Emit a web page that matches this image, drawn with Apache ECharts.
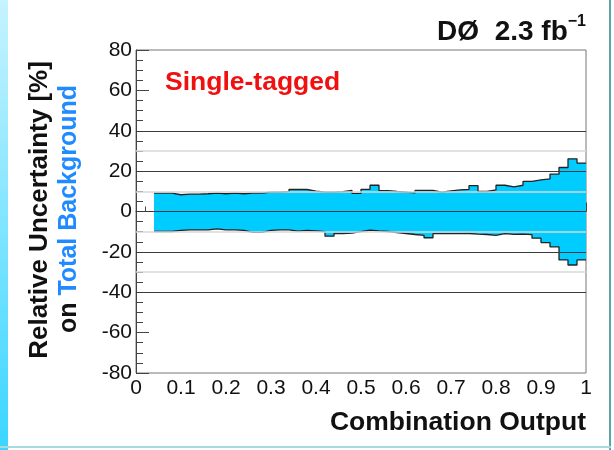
<!DOCTYPE html>
<html><head><meta charset="utf-8">
<script src="https://cdn.jsdelivr.net/npm/echarts@6/dist/echarts.min.js"></script>
<style>html,body{margin:0;padding:0;background:#fff}#c{width:614px;height:450px}</style>
</head><body><div id="c"></div><script>
const binEdges = [0.04,0.06,0.08,0.10,0.12,0.14,0.16,0.18,0.20,0.22,0.24,0.26,0.28,0.30,0.32,0.34,0.36,0.38,0.40,0.42,0.44,0.46,0.48,0.50,0.52,0.54,0.56,0.58,0.60,0.62,0.64,0.66,0.68,0.70,0.72,0.74,0.76,0.78,0.80,0.82,0.84,0.86,0.88,0.90,0.92,0.94,0.96,0.98,1.00];
const upperUnc = [9.1,9.1,8.3,8.6,8.6,8.8,9.1,8.8,9.1,8.8,9.1,9.1,
  9.6,9.6,9.8,10.9,10.9,10.1,9.6,9.6,9.8,10.4,9.0,11.0,
  13.0,10.3,9.9,9.6,9.2,10.4,10.4,9.6,10.2,10.7,11.0,12.8,
  9.9,10.7,13.0,12.2,13.0,14.9,15.7,16.2,18.5,21.8,26.1,24.0];
const lowerUnc = [-9.9,-9.9,-9.4,-9.1,-9.1,-9.1,-8.6,-9.1,-9.1,-9.4,-10.3,-10.3,
  -9.4,-9.1,-9.1,-9.7,-9.4,-9.6,-10.0,-12.2,-10.9,-10.7,-10.0,-9.2,
  -9.6,-9.9,-10.4,-10.9,-11.4,-11.8,-13.0,-11.0,-11.0,-11.0,-10.9,-11.2,
  -11.4,-11.8,-11.0,-11.3,-11.2,-11.5,-13.2,-15.4,-17.5,-24.0,-26.5,-24.0];
const darkLines = [-40,-20,0,20,40];
const lightLines = [-30,-10,10,30];

function stepPts(vals){
  const pts = vals.map((v,i)=>[binEdges[i], v]);
  pts.push([binEdges[binEdges.length-1], vals[vals.length-1]]);
  return pts;
}
const FONT = '"Liberation Sans", Arial, Helvetica, sans-serif';
const fill = '#00ccff';
const chart = echarts.init(document.getElementById('c'), null, {renderer:'canvas'});
const mlData = [];
lightLines.forEach(v=>mlData.push({yAxis:v, lineStyle:{color:'#d8d8d8', width:1.5, type:'solid'}}));
darkLines.forEach(v=>mlData.push({yAxis:v, lineStyle:{color:'#3a3a3a', width:1.2, type:'solid'}}));

chart.setOption({
  animation:false,
  backgroundColor:'#ffffff',
  grid:{left:136, top:50, right:28, bottom:77, show:true, borderColor:'#777', borderWidth:1, backgroundColor:'transparent'},
  xAxis:{type:'value', min:0, max:1, interval:0.1,
    axisLine:{show:true, lineStyle:{color:'#444', width:1}},
    axisTick:{show:true, inside:true, length:9, lineStyle:{color:'#444'}},
    minorTick:{show:true, splitNumber:5, length:5, lineStyle:{color:'#444'}},
    splitLine:{show:false},
    axisLabel:{color:'#111', fontSize:21, fontFamily:FONT, margin:5}
  },
  yAxis:{type:'value', min:-80, max:80, interval:20,
    axisLine:{show:true, lineStyle:{color:'#444', width:1}},
    axisTick:{show:true, inside:true, length:13, lineStyle:{color:'#444'}},
    minorTick:{show:true, splitNumber:4, length:7, lineStyle:{color:'#444'}},
    splitLine:{show:false},
    axisLabel:{color:'#111', fontSize:21, fontFamily:FONT, margin:4}
  },
  series:[
    {type:'line', step:'end', data:stepPts(upperUnc), symbol:'none', z:2,
      lineStyle:{color:'#222', width:1.3}, areaStyle:{color:fill, opacity:1, origin:0}},
    {type:'line', step:'end', data:stepPts(lowerUnc), symbol:'none', z:2,
      lineStyle:{color:'#222', width:1.3}, areaStyle:{color:fill, opacity:1, origin:0}},
    {type:'line', data:[[0,0]], symbol:'none', z:5, lineStyle:{opacity:0},
      markLine:{silent:true, symbol:'none', label:{show:false}, animation:false, data:mlData}}
  ],
  graphic:[
    {type:'rect', left:0, top:0, shape:{width:8, height:450}, z:100,
      style:{fill:new echarts.graphic.LinearGradient(0,0,0,1,[{offset:0,color:'#c6f3ff'},{offset:1,color:'#3ad6ff'}])}},
    {type:'rect', left:609, top:0, shape:{width:2, height:450}, z:100, style:{fill:'#5aa6a8'}},
    {type:'rect', left:0, top:446, shape:{width:611, height:2}, z:100, style:{fill:'#a9d9dc'}},
    {type:'text', right:28, top:14, z:100, style:{
      text:'{a|DØ  2.3 fb}{b|−1}', rich:{
        a:{fontSize:28, fontWeight:'bold', fontFamily:FONT, fill:'#111', verticalAlign:'bottom'},
        b:{fontSize:16, fontWeight:'bold', fontFamily:FONT, fill:'#111', verticalAlign:'top', padding:[0,0,16,0]}
      }}},
    {type:'text', left:165, top:69, z:100, style:{text:'Single-tagged', fontSize:26.5, fontWeight:'bold', fontFamily:FONT, fill:'#f01010'}},
    {type:'text', right:28, top:409, z:100, style:{text:'Combination Output', fontSize:26.5, fontWeight:'bold', fontFamily:FONT, fill:'#111'}},
    {type:'text', x:40, y:210, rotation:Math.PI/2, z:100, style:{text:'Relative Uncertainty [%]', fontSize:26, fontWeight:'bold', fontFamily:FONT, fill:'#111', textAlign:'center', textVerticalAlign:'middle'}},
    {type:'text', x:69, y:209, rotation:Math.PI/2, z:100, style:{
      text:'{a|on }{b|Total Background}', textAlign:'center', textVerticalAlign:'middle', rich:{
        a:{fontSize:25, fontWeight:'bold', fontFamily:FONT, fill:'#111'},
        b:{fontSize:25, fontWeight:'bold', fontFamily:FONT, fill:'#1f8bff'}
      }}}
  ]
});
</script></body></html>
